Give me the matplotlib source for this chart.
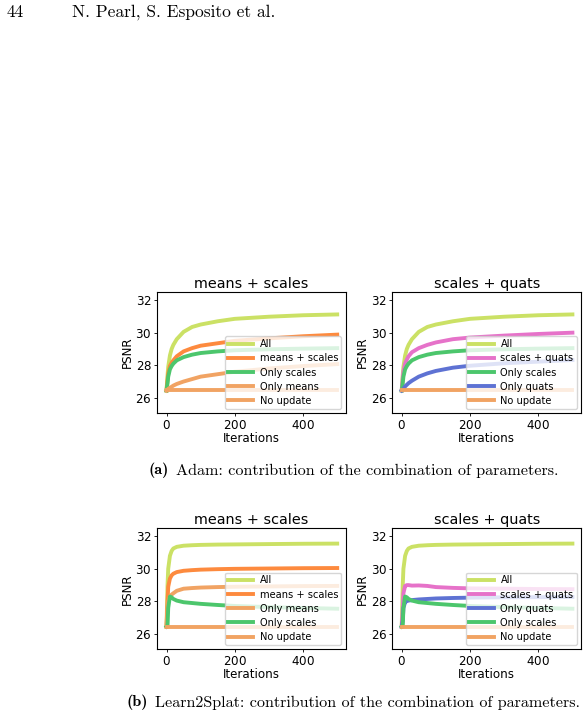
import matplotlib
matplotlib.use("Agg")
import matplotlib.pyplot as plt

plt.rcParams["axes.formatter.use_mathtext"] = True

iters = [0, 3, 5, 10, 15, 20, 30, 50, 75, 100, 150, 200, 300, 400, 500]

# ---- (a) Adam ----
adam_all = [26.45, 27.4, 27.9, 28.6, 29.0, 29.25, 29.6, 30.05, 30.35, 30.5, 30.7, 30.85, 30.98, 31.07, 31.12]
adam_means_scales = [26.45, 27.1, 27.5, 27.95, 28.15, 28.3, 28.55, 28.85, 29.05, 29.2, 29.35, 29.5, 29.65, 29.78, 29.88]
adam_only_scales = [26.45, 26.9, 27.3, 27.75, 27.95, 28.1, 28.3, 28.5, 28.65, 28.75, 28.85, 28.92, 28.98, 29.02, 29.05]
adam_only_means = [26.45, 26.5, 26.55, 26.62, 26.68, 26.75, 26.85, 27.0, 27.15, 27.3, 27.45, 27.6, 27.8, 27.95, 28.07]
adam_scales_quats = [26.45, 27.2, 27.6, 28.1, 28.35, 28.55, 28.8, 29.05, 29.25, 29.4, 29.6, 29.7, 29.82, 29.92, 30.0]
adam_only_quats = [26.45, 26.5, 26.55, 26.7, 26.8, 26.9, 27.05, 27.3, 27.5, 27.65, 27.85, 27.97, 28.12, 28.22, 28.32]
adam_no_update = [26.45] * len(iters)

# ---- (b) Learn2Splat ----
l2s_all = [26.45, 29.0, 30.0, 30.8, 31.1, 31.25, 31.35, 31.42, 31.45, 31.47, 31.49, 31.5, 31.52, 31.54, 31.55]
l2s_means_scales = [26.45, 28.0, 28.9, 29.4, 29.6, 29.7, 29.8, 29.88, 29.92, 29.95, 29.98, 30.0, 30.02, 30.04, 30.05]
l2s_only_means = [26.45, 27.5, 28.0, 28.3, 28.42, 28.5, 28.65, 28.78, 28.82, 28.85, 28.88, 28.9, 28.92, 28.94, 28.95]
l2s_only_scales = [26.45, 26.5, 27.6, 28.3, 28.25, 28.15, 28.05, 27.95, 27.9, 27.85, 27.78, 27.72, 27.65, 27.6, 27.55]
l2s_scales_quats = [26.45, 27.5, 28.5, 28.95, 29.0, 29.0, 28.97, 28.98, 28.95, 28.88, 28.83, 28.8, 28.78, 28.76, 28.75]
l2s_only_quats = [26.45, 26.8, 27.6, 27.95, 28.02, 28.05, 28.08, 28.12, 28.15, 28.18, 28.21, 28.23, 28.25, 28.26, 28.27]
l2s_no_update = [26.45] * len(iters)

c_all = "#cbe165"
c_ms = "#fd8a3e"
c_scales = "#4cc66c"
c_means = "#f1a363"
c_sq = "#e672c9"
c_quats = "#5e72d3"
c_none = "#f1a363"

panels = [
    ([0.2675, 0.426, 0.3205, 0.1685], "means + scales",
     [(adam_all, "All", c_all), (adam_means_scales, "means + scales", c_ms),
      (adam_only_scales, "Only scales", c_scales), (adam_only_means, "Only means", c_means),
      (adam_no_update, "No update", c_none)]),
    ([0.6675, 0.426, 0.3205, 0.1685], "scales + quats",
     [(adam_all, "All", c_all), (adam_scales_quats, "scales + quats", c_sq),
      (adam_only_scales, "Only scales", c_scales), (adam_only_quats, "Only quats", c_quats),
      (adam_no_update, "No update", c_none)]),
    ([0.2675, 0.098, 0.3205, 0.1685], "means + scales",
     [(l2s_all, "All", c_all), (l2s_means_scales, "means + scales", c_ms),
      (l2s_only_means, "Only means", c_means), (l2s_only_scales, "Only scales", c_scales),
      (l2s_no_update, "No update", c_none)]),
    ([0.6675, 0.098, 0.3205, 0.1685], "scales + quats",
     [(l2s_all, "All", c_all), (l2s_scales_quats, "scales + quats", c_sq),
      (l2s_only_quats, "Only quats", c_quats), (l2s_only_scales, "Only scales", c_scales),
      (l2s_no_update, "No update", c_none)]),
]

fig = plt.figure(figsize=(5.88, 7.2), dpi=100)

for rect, title, series in panels:
    ax = fig.add_axes(rect)
    for vals, label, color in series:
        ax.plot(iters, vals, color=color, lw=2.8, label=label)
    ax.set_xlim(-27, 525)
    ax.set_ylim(25.05, 32.5)
    ax.set_yticks([26, 28, 30, 32])
    ax.set_xticks([0, 200, 400])
    ax.tick_params(labelsize=8.6, length=2.5, width=0.6, pad=1.5)
    ax.set_title(title, fontsize=10.4, pad=3)
    ax.set_xlabel("Iterations", fontsize=8.6, labelpad=0)
    ax.set_ylabel("PSNR", fontsize=8.6, labelpad=1)
    for sp in ax.spines.values():
        sp.set_linewidth(0.8)
    ax.legend(loc="lower right", fontsize=7.1, handlelength=2.5, borderpad=0.3,
              labelspacing=0.42, handletextpad=0.7, borderaxespad=0.45, framealpha=0.8)

# page header and sub-captions
fig.text(0.012, 0.983, "44", fontfamily="cmr10", fontsize=12.5, va="center")
fig.text(0.122, 0.983, "N. Pearl, S. Esposito et al.", fontfamily="cmr10",
         fontsize=12.5, va="center")

ta = fig.text(0.253, 0.347, "(a)", fontfamily="cmb10", fontsize=11.6, va="center")
fig.texts.append(plt.Annotation("Adam: contribution of the combination of parameters.",
                                xy=(1, 0), xycoords=ta, xytext=(5, 0), textcoords="offset points",
                                fontfamily="cmr10", fontsize=11.6, va="bottom"))
tb = fig.text(0.215, 0.024, "(b)", fontfamily="cmb10", fontsize=11.6, va="center")
fig.texts.append(plt.Annotation("Learn2Splat: contribution of the combination of parameters.",
                                xy=(1, 0), xycoords=tb, xytext=(5, 0), textcoords="offset points",
                                fontfamily="cmr10", fontsize=11.6, va="bottom"))
for t in fig.texts[-1:] + fig.texts[-3:-2]:
    t.set_figure(fig)

fig.savefig("out.png", dpi=100)
